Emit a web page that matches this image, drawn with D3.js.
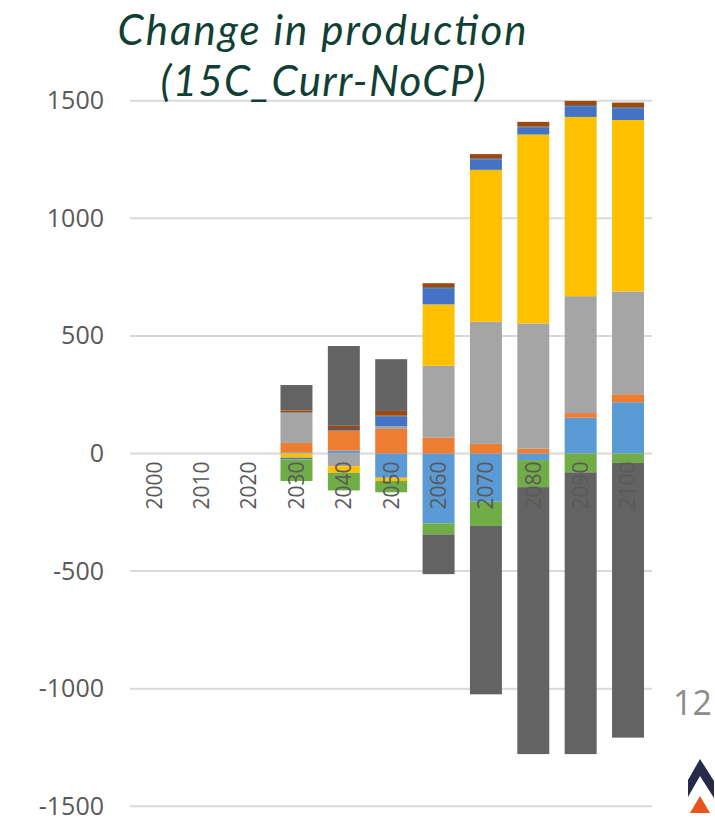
<!DOCTYPE html>
<html lang="en">
	<head>
		<meta charset="utf-8">
		<title>D3: Change in production</title>
		<script type="text/javascript" src="https://cdn.jsdelivr.net/npm/d3@7"></script>
		<style type="text/css">
		body {
			margin: 0;
			background: #ffffff;
		}
		.axis text {
			font-family: "Open Sans", sans-serif;
			fill: #595959;
		}
		</style>
	</head>
	<body>

		<script type="text/javascript">

		//Width and height
		var w = 715;
		var h = 821;

		//Categories and y ticks
		var years = ["2000", "2010", "2020", "2030", "2040", "2050", "2060", "2070", "2080", "2090", "2100"];
		var yTicks = [-1500, -1000, -500, 0, 500, 1000, 1500];

		//Series values, one per year (Excel series order)
		var lightBlue = [0, 0, 0, 5, 12, -103, -297, -205, -28, 152, 218];
		var orange    = [0, 0, 0, 40, 86, 104, 67, 41, 20, 20, 34];
		var gray      = [0, 0, 0, 128, -54, 13, 306, 519, 533, 497, 437];
		var yellow    = [0, 0, 0, -18, -28, -14, 261, 646, 803, 762, 729];
		var blue      = [0, 0, 0, -7, 0, 40, 67, 45, 30, 44, 50];
		var green     = [0, 0, 0, -92, -75, -48, -47, -103, -115, -80, -40];
		var darkBlue  = [0, 0, 0, 2, 6, 4, 6, 4, 4, 6, 4];
		var brown     = [0, 0, 0, 8, 14, 20, 17, 18, 20, 18, 20];
		var darkGray  = [0, 0, 0, 108, 339, 220, -169, -716, -1135, -1198, -1168];

		var seriesNames = ["lightBlue", "orange", "gray", "yellow", "blue", "green", "darkBlue", "brown", "darkGray"];
		var seriesValues = [lightBlue, orange, gray, yellow, blue, green, darkBlue, brown, darkGray];
		var colors = ["#5B9BD5", "#ED7D31", "#A5A5A5", "#FFC000", "#4472C4", "#70AD47", "#255E91", "#9E480E", "#636363"];

		//Build rows for the stack
		var dataset = years.map(function(y, i) {
			var row = { year: y };
			seriesNames.forEach(function(k, j) {
				row[k] = seriesValues[j][i];
			});
			return row;
		});

		//Stack positives up, negatives down
		var stack = d3.stack()
						.keys(seriesNames)
						.offset(d3.stackOffsetDiverging);
		var series = stack(dataset);

		//Scales
		var xScale = d3.scaleBand()
						.domain(years)
						.range([130.7, 651.7])
						.paddingInner(0.325)
						.paddingOuter(0.1625);

		var yScale = d3.scaleLinear()
						.domain([-1500, 1500])
						.range([806.3, 100.7]);

		//Create SVG element
		var svg = d3.select("body")
					.append("svg")
					.attr("width", w)
					.attr("height", h);

		//Gridlines
		svg.append("g")
			.selectAll("line")
			.data(yTicks)
			.enter()
			.append("line")
			.attr("x1", 130)
			.attr("x2", 652)
			.attr("y1", function(d) { return yScale(d); })
			.attr("y2", function(d) { return yScale(d); })
			.attr("stroke", "#d9d9d9")
			.attr("stroke-width", 2);

		//Bars
		svg.append("g")
			.selectAll("g")
			.data(series)
			.enter()
			.append("g")
			.attr("fill", function(d, i) { return colors[i]; })
			.selectAll("rect")
			.data(function(d) { return d; })
			.enter()
			.append("rect")
			.attr("x", function(d) { return xScale(d.data.year); })
			.attr("width", xScale.bandwidth())
			.attr("y", function(d) { return yScale(Math.max(d[0], d[1])); })
			.attr("height", function(d) { return Math.abs(yScale(d[0]) - yScale(d[1])); });

		//Y axis labels (plain hyphen, no comma)
		var yAxis = d3.axisLeft(yScale)
						.tickValues(yTicks)
						.tickFormat(function(d) { return String(d); })
						.tickSize(0)
						.tickPadding(0);

		svg.append("g")
			.attr("class", "axis")
			.attr("transform", "translate(104,0)")
			.call(yAxis)
			.call(function(g) { g.select(".domain").remove(); })
			.selectAll("text")
			.style("font-size", "25px");

		//X axis labels, rotated, just below zero
		var xAxis = d3.axisBottom(xScale)
						.tickSize(0)
						.tickPadding(0);

		svg.append("g")
			.attr("class", "axis")
			.attr("transform", "translate(0," + yScale(0) + ")")
			.call(xAxis)
			.call(function(g) { g.select(".domain").remove(); })
			.selectAll("text")
			.style("font-size", "21px")
			.attr("text-anchor", "end")
			.attr("dy", "0.35em")
			.attr("transform", "translate(0,8) rotate(-90)")
			.attr("x", 0)
			.attr("y", 0);

		//Title (Lato is close to Calibri), stretched to the reference widths
		var title = svg.append("text")
			.attr("text-anchor", "middle")
			.style("font-family", "Lato, 'Open Sans', sans-serif")
			.style("font-style", "italic")
			.style("font-size", "42px")
			.attr("fill", "#123F35");
		title.append("tspan").attr("x", 322).attr("y", 45)
			.attr("textLength", 409).attr("lengthAdjust", "spacing")
			.text("Change in production");
		title.append("tspan").attr("x", 323).attr("y", 96)
			.attr("textLength", 325).attr("lengthAdjust", "spacing")
			.text("(15C_Curr-NoCP)");

		//Slide number
		svg.append("text")
			.attr("x", 712)
			.attr("y", 715)
			.attr("text-anchor", "end")
			.style("font-family", "'Open Sans', sans-serif")
			.style("font-size", "34px")
			.attr("fill", "#8c8c8c")
			.text("12");

		//Logo
		svg.append("path")
			.attr("d", "M700,759 L714,781 L714,798 L700,776 L688,797 L688,780 Z")
			.attr("fill", "#262B4A");
		svg.append("path")
			.attr("d", "M700,796 L710,813 L690,813 Z")
			.attr("fill", "#E8541C");

		</script>
	</body>
</html>
